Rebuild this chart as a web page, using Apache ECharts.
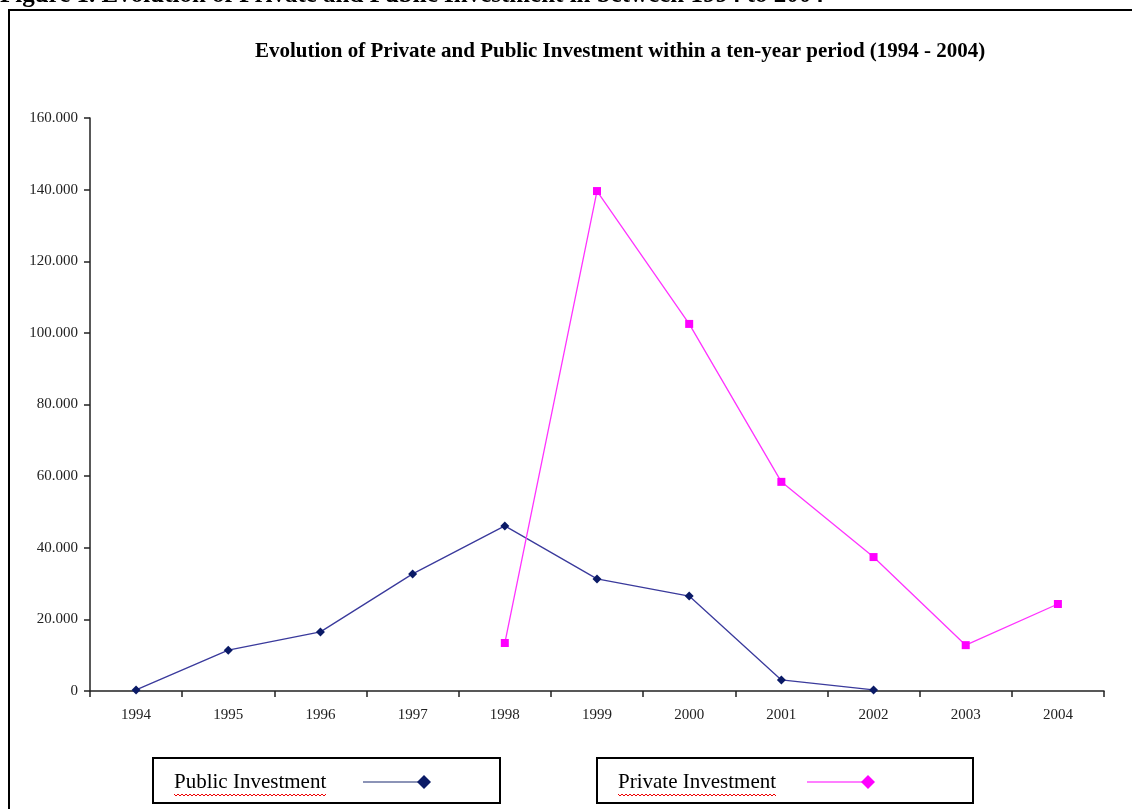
<!DOCTYPE html>
<html>
<head>
<meta charset="utf-8">
<script src="https://cdn.jsdelivr.net/npm/echarts@6/dist/echarts.min.js"></script>
<style>
  html, body { margin: 0; padding: 0; background: #fff; }
  #chart { width: 1132px; height: 809px; }
</style>
</head>
<body>
<div id="chart"></div>
<script>
(function () {
  "use strict";
  const chart = echarts.init(document.getElementById("chart"));

  // values (thousands)
  const years = ["1994", "1995", "1996", "1997", "1998", "1999", "2000", "2001", "2002", "2003", "2004"];
  const publicInv = [0.3, 11.4, 16.5, 32.7, 46.1, 31.3, 26.5, 3.1, 0.3, null, null];
  const privateInv = [null, null, null, null, 13.4, 139.6, 102.5, 58.4, 37.4, 12.8, 24.3];
  const yTicks = { min: 0, max: 160, interval: 20 };

  const serif = "'Liberation Serif', 'DejaVu Serif', serif";
  const fmtY = v => (v === 0 ? "0" : v.toFixed(3));

  // red spell-check squiggle under legend words
  function squiggle(x0, x1, y) {
    const pts = [];
    for (let x = x0, i = 0; x <= x1; x += 2, i++) pts.push([x, y + (i % 2 ? 2 : 0)]);
    return { type: "polyline", shape: { points: pts }, style: { stroke: "#e00", lineWidth: 1, fill: null }, silent: true };
  }

  function legendBox(x, w, label, color, markColor, textW) {
    return [
      { type: "rect", shape: { x: x, y: 758, width: w, height: 45 }, style: { fill: "#fff", stroke: "#000", lineWidth: 2 } },
      { type: "text", style: { x: x + 21, y: 782, text: label, font: "21px " + serif, fill: "#000", verticalAlign: "middle" } },
      squiggle(x + 21, x + 21 + textW, 794),
      { type: "line", shape: { x1: x + 210, y1: 782, x2: x + 268, y2: 782 }, style: { stroke: color, lineWidth: 1.2 } },
      { type: "polygon", shape: { points: [[x + 271, 775], [x + 278, 782], [x + 271, 789], [x + 264, 782]] }, style: { fill: markColor } },
    ];
  }

  chart.setOption({
    animation: false,
    backgroundColor: "#fff",
    title: {
      text: "Evolution of Private and Public Investment within a ten-year period (1994 - 2004)",
      left: 250, top: 36,
      textStyle: { fontFamily: serif, fontWeight: "bold", fontSize: 21, color: "#000" },
    },
    grid: { left: 90, right: 28, top: 118, bottom: 118 },
    xAxis: {
      type: "category",
      data: years,
      boundaryGap: true,
      axisLine: { lineStyle: { color: "#222", width: 1.5 } },
      axisTick: { show: true, length: 6, lineStyle: { color: "#222", width: 1.5 } },
      axisLabel: { fontFamily: serif, fontSize: 15, color: "#222", margin: 17 },
    },
    yAxis: {
      type: "value",
      min: yTicks.min, max: yTicks.max, interval: yTicks.interval,
      splitLine: { show: false },
      axisLine: { show: true, lineStyle: { color: "#222", width: 1.5 } },
      axisTick: { show: true, length: 6, lineStyle: { color: "#222", width: 1.5 } },
      axisLabel: { fontFamily: serif, fontSize: 15, color: "#222", margin: 12, formatter: fmtY },
    },
    series: [
      {
        name: "Public Investment", type: "line", data: publicInv,
        symbol: "diamond", symbolSize: 9,
        lineStyle: { color: "#3a3a9c", width: 1.3 },
        itemStyle: { color: "#0a1a66" },
      },
      {
        name: "Private Investment", type: "line", data: privateInv,
        symbol: "rect", symbolSize: 8,
        lineStyle: { color: "#ff33ff", width: 1.3 },
        itemStyle: { color: "#ff00ff" },
      },
    ],
    graphic: [
      { type: "text", style: { x: 0, y: -17, text: "Figure 1. Evolution of Private and Public Investment in between 1994 to 2004", font: "bold 25px " + serif, fill: "#000" } },
      { type: "rect", shape: { x: 9, y: 10, width: 1140, height: 820 }, style: { fill: null, stroke: "#000", lineWidth: 2 }, silent: true },
      ...legendBox(153, 347, "Public Investment", "#1a2a70", "#0a1a66", 153),
      ...legendBox(597, 376, "Private Investment", "#ff00ff", "#ff00ff", 158),
    ],
  });

  window.addEventListener("resize", () => chart.resize());
})();
</script>
</body>
</html>
